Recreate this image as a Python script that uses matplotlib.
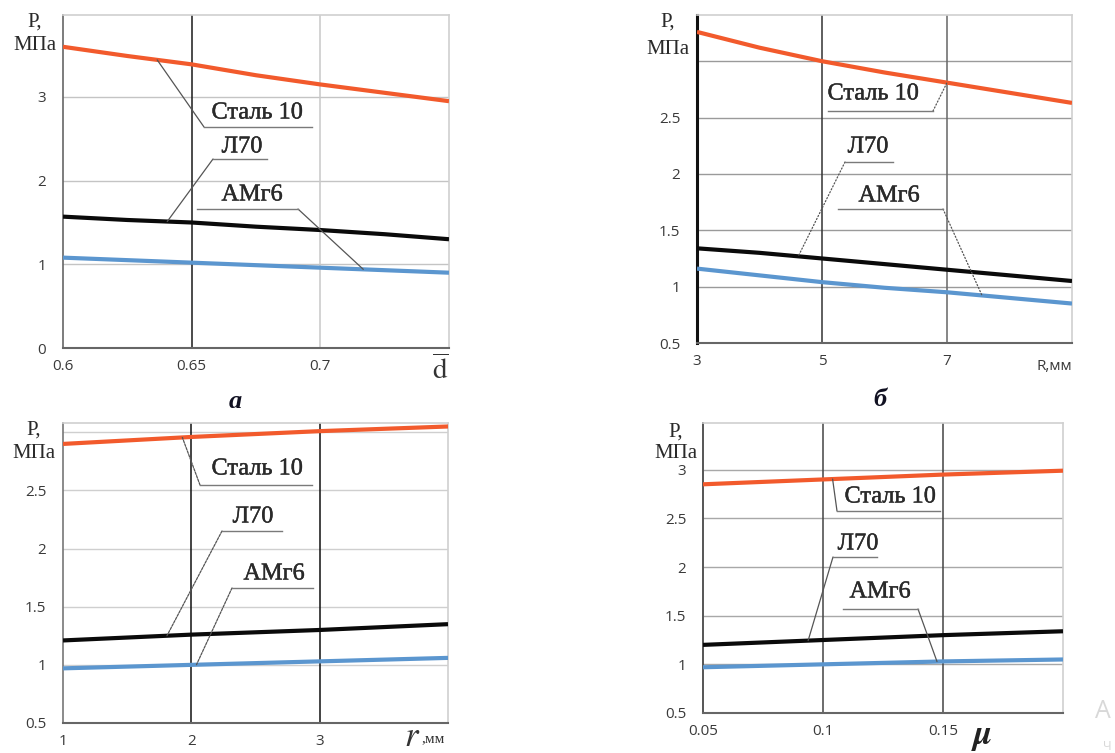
import numpy as np
import matplotlib
matplotlib.use("Agg")
import matplotlib.pyplot as plt
import matplotlib.patheffects as pe

plt.rcParams['mathtext.fontset'] = 'stix'

W, H = 1115, 753

# ---------------- data ----------------
# panel a: relative diameter d
d_x = [0.6, 0.625, 0.65, 0.675, 0.7, 0.725, 0.75]
d_steel = [3.60, 3.49, 3.39, 3.26, 3.15, 3.05, 2.95]
d_l70 = [1.57, 1.53, 1.50, 1.45, 1.41, 1.36, 1.30]
d_amg6 = [1.08, 1.05, 1.02, 0.99, 0.96, 0.93, 0.90]

# panel b: R, mm
R_x = [3, 4, 5, 6, 7, 8, 9]
R_steel = [3.26, 3.12, 3.00, 2.90, 2.81, 2.72, 2.63]
R_l70 = [1.34, 1.30, 1.25, 1.20, 1.15, 1.10, 1.05]
R_amg6 = [1.16, 1.10, 1.04, 0.99, 0.95, 0.90, 0.85]

# panel v: r, mm
r_x = [1, 2, 3, 4]
r_steel = [2.90, 2.96, 3.01, 3.05]
r_l70 = [1.21, 1.26, 1.30, 1.35]
r_amg6 = [0.97, 1.00, 1.03, 1.06]

# panel g: mu
mu_x = [0.05, 0.1, 0.15, 0.2]
mu_steel = [2.85, 2.90, 2.95, 2.99]
mu_l70 = [1.20, 1.25, 1.30, 1.34]
mu_amg6 = [0.97, 1.00, 1.03, 1.05]

series_names = ["Сталь 10", "Л70", "АМг6"]
ORANGE, BLACK, BLUE = "#f25a2c", "#0a0a0a", "#5b96cf"
colors = [ORANGE, BLACK, BLUE]

fig = plt.figure(figsize=(W / 100, H / 100), dpi=100)


def fx(x):
    return x / W


def fy(y):
    return 1 - y / H


def make_axes(l, t, r, b):
    return fig.add_axes([fx(l), fy(b), (r - l) / W, (b - t) / H])


panels = [
    dict(box=(63, 15, 449, 348), x=d_x, ys=[d_steel, d_l70, d_amg6],
         xlim=(0.6, 0.75), ylim=(0, 3.98), xticks=[0.6, 0.65, 0.7],
         xlabels=["0.6", "0.65", "0.7"], yticks=[0, 1, 2, 3],
         ylabels=["0", "1", "2", "3"],
         vgrid_colors=["#1a1a1a", "#c8c8c8"], vgrid=[0.65, 0.7],
         hgrid_color="#c4c4c4", left_color="#666666", left_lw=1.2,
         plabel=(35, 22, 46),
         ann=[("Сталь 10", (257, 113), (204, 312, 127), 204, 0.6366, "-"),
              ("Л70", (242, 147), (213, 267, 159), 213, 0.6405, "-"),
              ("АМг6", (252, 195), (197, 298, 209), 298, 0.7167, "-")]),
    dict(box=(697, 15, 1072, 343), x=R_x, ys=[R_steel, R_l70, R_amg6],
         xlim=(3, 9), ylim=(0.5, 3.41), xticks=[3, 5, 7],
         xlabels=["3", "5", "7"], yticks=[0.5, 1, 1.5, 2, 2.5, 3],
         ylabels=["0.5", "1", "1.5", "2", "2.5", ""],
         vgrid_colors=["#333333", "#666666"], vgrid=[5, 7],
         hgrid_color="#9a9a9a", left_color="#111111", left_lw=2.2,
         plabel=(668, 22, 50),
         ann=[("Сталь 10", (873, 94), (828, 933, 111), 933, 7.0, ":"),
              ("Л70", (868, 147), (845, 893, 162), 845, 4.62, ":"),
              ("АМг6", (889, 196), (838, 943, 209), 943, 7.56, ":")]),
    dict(box=(63, 423, 448, 723), x=r_x, ys=[r_steel, r_l70, r_amg6],
         xlim=(1, 4), ylim=(0.5, 3.08), xticks=[1, 2, 3],
         xlabels=["1", "2", "3"], yticks=[0.5, 1, 1.5, 2, 2.5, 3],
         ylabels=["0.5", "1", "1.5", "2", "2.5", ""],
         vgrid_colors=["#111111", "#111111"], vgrid=[2, 3],
         hgrid_color="#cfcfcf", left_color="#777777", left_lw=1.2,
         plabel=(34, 430, 453),
         ann=[("Сталь 10", (257, 469), (200, 312, 485), 200, 1.93, (0, (2, 1))),
              ("Л70", (253, 517), (222, 282, 531), 222, 1.81, (0, (2, 1))),
              ("АМг6", (274, 574), (232, 313, 588), 232, 2.04, (0, (2, 1)))]),
    dict(box=(703, 423, 1063, 713), x=mu_x, ys=[mu_steel, mu_l70, mu_amg6],
         xlim=(0.05, 0.2), ylim=(0.5, 3.48), xticks=[0.05, 0.1, 0.15],
         xlabels=["0.05", "0.1", "0.15"], yticks=[0.5, 1, 1.5, 2, 2.5, 3],
         ylabels=["0.5", "1", "1.5", "2", "2.5", "3"],
         vgrid_colors=["#444444", "#444444"], vgrid=[0.1, 0.15],
         hgrid_color="#a8a8a8", left_color="#555555", left_lw=1.4,
         plabel=(676, 432, 453),
         ann=[("Сталь 10", (890, 497), (837, 940, 511), 837, 0.104, "-"),
              ("Л70", (858, 544), (833, 877, 557), 833, 0.0938, "-"),
              ("АМг6", (880, 592), (843, 918, 609), 918, 0.1475, "-")]),
]

tick_font = dict(family="Open Sans", size=11, color="#3a3a3a")
serif = "Liberation Serif"
bold_fx = [pe.withStroke(linewidth=0.3, foreground="#2a2a2a")]

for p in panels:
    l, t, r, b = p["box"]
    ax = make_axes(l, t, r, b)
    ax.set_xlim(*p["xlim"])
    ax.set_ylim(*p["ylim"])
    ax.set_xticks(p["xticks"])
    ax.set_xticklabels(p["xlabels"], **tick_font)
    ax.set_yticks(p["yticks"])
    ax.set_yticklabels(p["ylabels"], **tick_font)
    ax.tick_params(length=0, pad=12)
    ax.tick_params(axis="x", pad=8)
    for yv in p["yticks"]:
        ax.axhline(yv, color=p["hgrid_color"], lw=1.0, zorder=1)
    for xv, c in zip(p["vgrid"], p["vgrid_colors"]):
        ax.axvline(xv, color=c, lw=1.1, zorder=1)
    for s in ["top", "right"]:
        ax.spines[s].set_color("#d0d0d0")
        ax.spines[s].set_linewidth(1.2)
    ax.spines["bottom"].set_color("#666666")
    ax.spines["bottom"].set_linewidth(1.5)
    ax.spines["left"].set_color(p["left_color"])
    ax.spines["left"].set_linewidth(p["left_lw"])

    for ys, c in zip(p["ys"], colors):
        ax.plot(p["x"], ys, color=c, lw=3.0, solid_capstyle="butt", zorder=3)

    # P, MPa label
    px, y1, y2 = p["plabel"]
    fig.text(fx(px), fy(y1), "P,", family=serif, size=15, color="#2a2a2a",
             ha="center", va="center")
    fig.text(fx(px), fy(y2), "МПа", family=serif, size=15, color="#2a2a2a",
             ha="center", va="center")

    # annotations with leader lines
    for (name, tc, ul, lx, cx, ls), ys in zip(p["ann"], p["ys"]):
        fig.text(fx(tc[0]), fy(tc[1]), name, family=serif, size=17.5,
                 color="#2a2a2a", ha="center", va="center",
                 path_effects=bold_fx)
        x0, x1, uy = ul
        fig.add_artist(plt.Line2D([fx(x0), fx(x1)], [fy(uy), fy(uy)],
                                  color="#7a7a7a", lw=1.0))
        cy = float(np.interp(cx, p["x"], ys))
        ax.annotate("", xy=(cx, cy), xycoords="data",
                    xytext=(fx(lx), fy(uy)), textcoords="figure fraction",
                    arrowprops=dict(arrowstyle="-", color="#555555", lw=0.9,
                                    linestyle=ls, shrinkA=0, shrinkB=0),
                    zorder=4)

# axis titles
fig.text(fx(440), fy(370), r"$\overline{\mathrm{d}}$", size=21,
         color="#333333", ha="center", va="center")
fig.text(fx(1072), fy(367), "R,мм", family="Open Sans", size=11,
         color="#3a3a3a", ha="right", va="center")
fig.text(fx(412), fy(736), r"$r$", size=25, color="#333333",
         ha="center", va="center")
fig.text(fx(421), fy(739), ",мм", family=serif, size=11,
         color="#333333", ha="left", va="center")
fig.text(fx(982), fy(736), r"$\boldsymbol{\mu}$", size=25,
         color="#222222", ha="center", va="center")

# panel captions
fig.text(fx(235), fy(402), "а", family=serif, size=19, weight="bold",
         style="italic", color="#111122", ha="center", va="center")
fig.text(fx(880), fy(400), "б", family=serif, size=19, weight="bold",
         style="italic", color="#111122", ha="center", va="center")

# faint watermark fragments at the right edge
fig.text(fx(1103), fy(712), "А", family="Open Sans", size=18,
         color="#d8d8d8", ha="center", va="center")
fig.text(fx(1107), fy(746), "Ч", family="Open Sans", size=9,
         color="#d8d8d8", ha="center", va="center")

fig.savefig("out.png", dpi=100)
